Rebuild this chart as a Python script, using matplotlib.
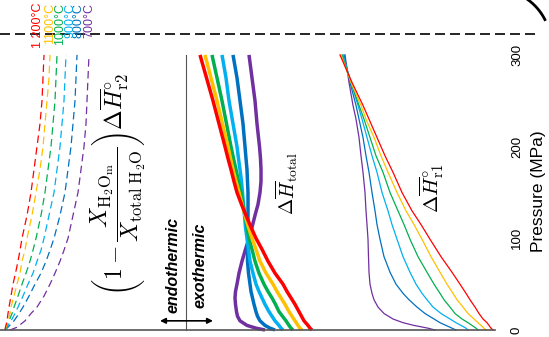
import matplotlib
matplotlib.use("Agg")
import matplotlib.pyplot as plt
import numpy as np

plt.rcParams['font.family'] = ['Liberation Sans', 'DejaVu Sans']
plt.rcParams['mathtext.fontset'] = 'cm'

colors = ['#7030A0', '#0070C0', '#00B0F0', '#00B050', '#FFC000', '#FF0000']
temps = ['700°C', '800°C', '900°C', '1000°C', '1100°C', '1 200°C']

# pressure (MPa) samples and enthalpy positions (arbitrary units, left -> right = exothermic)
# order of rows: 700, 800, 900, 1000, 1100, 1200 °C
p_r2 = [0, 3, 10, 18, 25, 37, 50, 62, 75, 87, 100, 125, 150, 175, 200, 225, 250, 275, 300]
h_r2 = [
    [10, 17, 25, 31, 37, 44, 50, 55, 60, 64, 68, 73, 78, 81, 84, 86, 87, 88, 89],
    [5, 8, 14, 19, 23, 29, 35, 41, 46, 50, 54, 60, 65, 68, 71, 73, 75, 76, 77],
    [5, 7, 11, 15, 18, 23, 28, 33, 37, 41, 44, 49, 54, 57, 60, 62, 64, 65, 66],
    [5, 6, 9, 12, 14, 18, 22, 26, 30, 33, 36, 41, 45, 48, 51, 53, 55, 56, 57],
    [5, 6, 8, 10, 11, 14, 17, 20, 22, 25, 27, 32, 36, 40, 43, 45, 47, 49, 50],
    [5, 5.5, 7, 8, 9, 11, 13, 15.5, 18, 20, 22, 27, 31, 34, 37, 40, 42, 43, 44],
]

p_tot = [0, 2, 5, 10, 15, 20, 28, 35, 42, 50, 62, 75, 88, 100, 112, 125, 137, 150,
         162, 175, 187, 200, 225, 250, 275, 300]
h_tot = [
    [265, 256, 247, 240, 237.5, 236.5, 235.5, 235, 235.5, 237, 239, 242, 245.5, 249, 252,
     255, 258, 260, 261, 261, 260.5, 259.5, 257, 255, 252, 249],
    [275, 270, 265, 260, 257.5, 256, 254, 252.5, 251, 250, 248.5, 247.5, 247.5, 248, 248,
     248, 248, 248, 247.5, 247, 246, 245, 243, 240, 237, 233],
    [283, 281, 279, 275, 272, 269, 265, 262, 259, 256, 253, 250, 248.5, 247, 245.5,
     244.5, 243.5, 242.5, 241.5, 240, 238.5, 237, 233, 229, 226, 222],
    [293, 291, 289, 286, 282.5, 279, 275.5, 272, 268, 264, 259, 255, 252, 249, 247,
     245, 243, 241, 238.5, 236, 233.5, 231, 226.5, 222, 217, 212],
    [302, 300, 298, 295, 292, 289, 285, 281, 277, 273, 266, 260, 256, 252, 248.5,
     245, 242, 239, 236, 233, 230.5, 228, 222.5, 217, 211, 205],
    [312, 310, 308, 304, 301.5, 299, 295, 291, 287, 283, 275, 268, 262, 256, 251,
     246, 241.5, 237, 234, 231, 228, 225, 219, 213, 206.5, 200],
]

p_r1 = [0, 2, 5, 8, 12, 18, 25, 33, 40, 50, 63, 80, 99, 115, 130, 150, 172, 190,
        210, 230, 245, 270, 300]
h_r1 = [
    [435, 428, 414, 403, 393, 384, 378, 374, 372, 370, 369, 368.5, 368, 367, 366, 365,
     363, 361, 359, 356, 353, 349, 345],
    [456, 452, 446, 440, 434, 425, 417, 409, 403, 396, 390, 384, 380, 377, 375, 372,
     369, 366, 363, 359, 356, 350, 344],
    [468, 466, 461, 456, 450, 441, 433, 427, 422, 416, 410, 403, 397, 392, 388, 382,
     377, 372, 367, 362, 358, 351, 343],
    [478, 476, 472, 468, 462, 455, 450, 444, 440, 434, 427, 418, 410, 404, 398, 390,
     383, 376, 370, 364, 359, 351, 342],
    [486, 484, 481, 478, 474, 468, 463, 457, 453, 447, 440, 431, 422, 414, 406, 397,
     388, 381, 374, 366, 361, 351, 341],
    [493, 491, 489, 487, 483, 479, 475, 470, 466, 460, 452, 441, 430, 421, 412, 402,
     393, 385, 377, 369, 363, 352, 340],
]

p_ticks = [0, 100, 200, 300]

fig = plt.figure(figsize=(5.49, 3.37), dpi=100)
ax = fig.add_axes([0, 0, 1, 1])
ax.set_xlim(0, 549)
ax.set_ylim(-7.63, 359.9)
ax.axis('off')

for c, h in zip(colors, h_r2):
    ax.plot(h, p_r2, color=c, lw=0.9, dashes=(6, 3.5))
for c, h in zip(colors, h_tot):
    ax.plot(h, p_tot, color=c, lw=2.5, solid_capstyle='butt')
for c, h in zip(colors, h_r1):
    ax.plot(h, p_r1, color=c, lw=0.9)

# baseline, zero line, top dashed line
ax.plot([0, 495], [0, 0], color='#555555', lw=1.2)
ax.plot([186, 186], [0, 300], color='#555555', lw=0.8)
ax.plot([0, 540], [323, 323], color='black', lw=1.2, dashes=(6, 3), clip_on=False)

# piece of a circle cut by the top right corner
th = np.linspace(0, 1.1, 40)
arc_x = 495 + 56 * np.sin(th)
arc_y = 45 - 56 * np.cos(th)
fig.add_artist(plt.Line2D(arc_x / 549, 1 - arc_y / 337, color='black', lw=2))

ax.annotate('', xy=(160, 10), xytext=(213, 10),
            arrowprops=dict(arrowstyle='<|-|>', color='black', lw=1.2, mutation_scale=8,
                            shrinkA=0, shrinkB=0))
ax.text(173, 18.5, 'endothermic', rotation=90, ha='center', va='bottom',
        fontsize=11.5, fontweight='bold', fontstyle='italic')
ax.text(200, 24, 'exothermic', rotation=90, ha='center', va='bottom',
        fontsize=11.5, fontweight='bold', fontstyle='italic')

# temperature labels
temp_x = [89, 79, 70, 60, 50, 38]
for c, t, x in zip(colors, temps, temp_x):
    ax.text(x, 357, t, rotation=90, ha='center', va='top', color=c, fontsize=9)

ax.text(118, 159,
        r'$\left(1-\dfrac{X_{\mathrm{H}_2\mathrm{O}_\mathrm{m}}}{X_{\mathrm{total\ H}_2\mathrm{O}}}\right)\Delta\overline{H}^{\circ}_{\mathrm{r2}}$',
        rotation=90, ha='center', va='center', fontsize=17)
ax.text(287, 160, r'$\Delta\overline{H}_{\mathrm{total}}$', rotation=90,
        ha='center', va='center', fontsize=14)
ax.text(432, 155, r'$\Delta\overline{H}^{\circ}_{\mathrm{r1}}$', rotation=90,
        ha='center', va='center', fontsize=15)

for p in p_ticks:
    ax.text(517, p, str(p), rotation=90, ha='center', va='center', fontsize=9.5)
ax.text(538, 151, 'Pressure (MPa)', rotation=90, ha='center', va='center', fontsize=12.5)

fig.savefig('out.png', dpi=100)
